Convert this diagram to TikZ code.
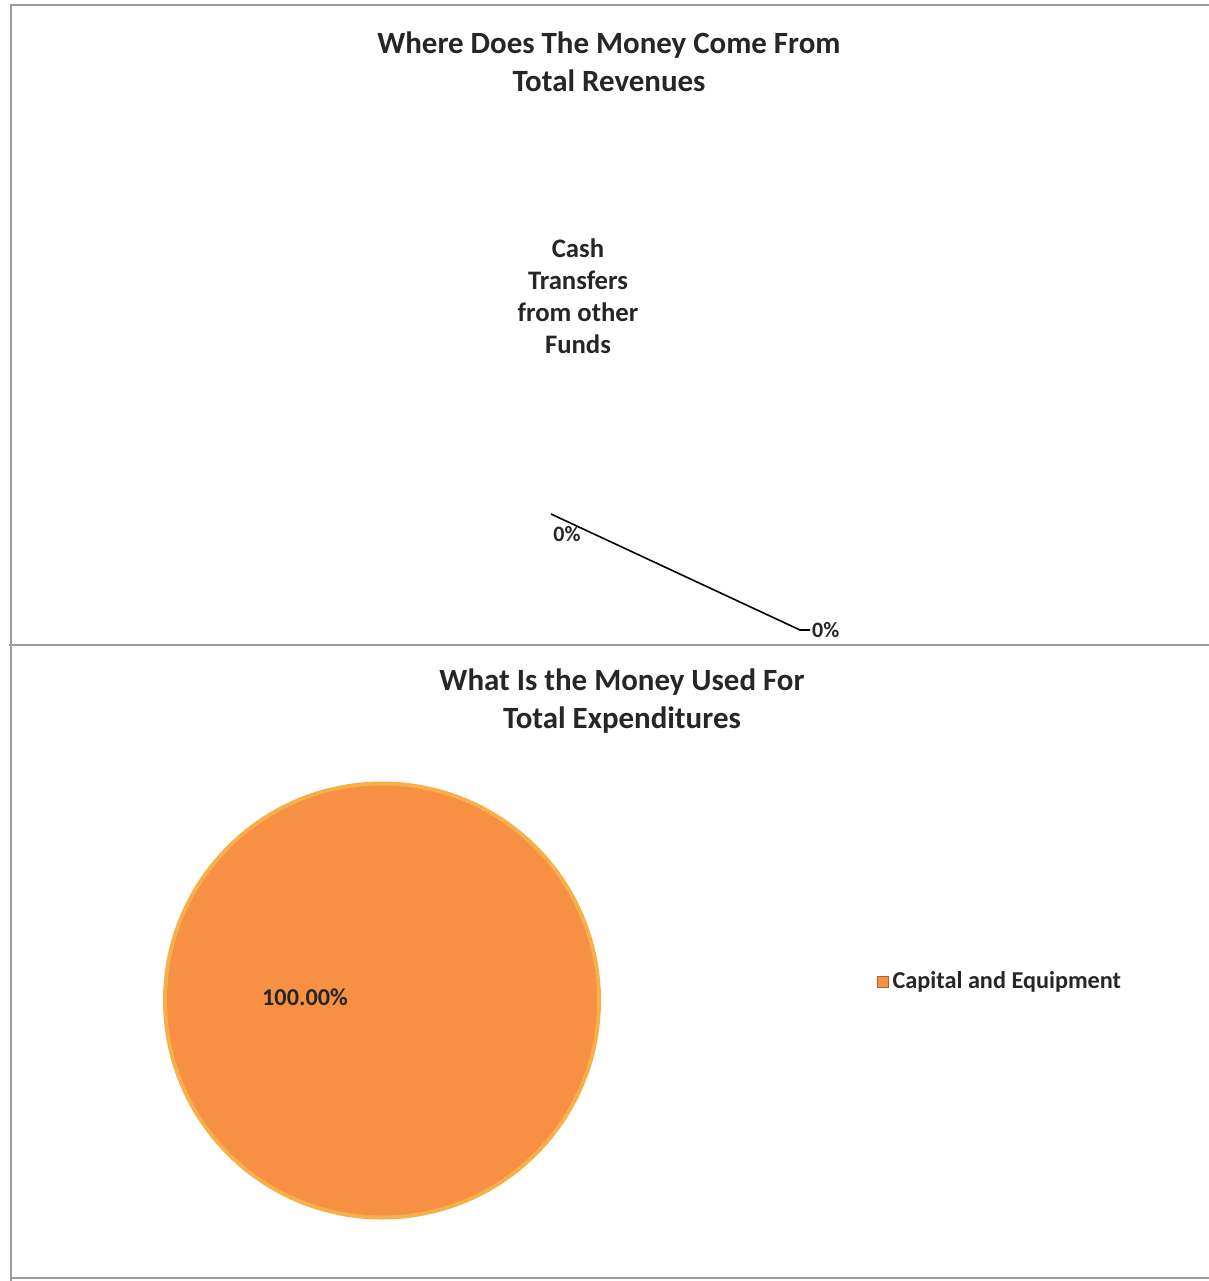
\documentclass[tikz,border=0pt]{standalone}
\usepackage{fontspec}
\setmainfont{Carlito}
\usetikzlibrary{positioning}
\definecolor{framegray}{HTML}{9C9C9C}
\definecolor{pieorange}{HTML}{F89044}
\definecolor{pierim}{HTML}{F6B04A}
\definecolor{labelblack}{HTML}{262626}
\tikzset{
  charttitle/.style={font=\bfseries\fontsize{17.6}{21.6}\selectfont, text=labelblack, align=center},
  catlabel/.style={font=\bfseries\fontsize{15.2}{18.2}\selectfont, text=labelblack, align=center},
  pctlabel/.style={font=\bfseries\fontsize{12.5}{14}\selectfont, text=labelblack, inner sep=1pt},
  legendlabel/.style={font=\bfseries\fontsize{13.8}{16}\selectfont, text=labelblack, inner sep=1pt},
  frameline/.style={framegray, line width=0.6pt}
}
\begin{document}
\begin{tikzpicture}[x=0.02cm, y=0.02cm]
  \pgfmathsetmacro{\PieR}{219}
  \useasboundingbox (0,0) rectangle (1209,-1281);

  % frame of both charts
  \draw[frameline] (1209,-5) -- (11,-5) -- (11,-1281);
  \draw[frameline] (9,-645) -- (1209,-645);
  \draw[frameline] (11,-1278) -- (1209,-1278);

  % revenues chart
  \node[charttitle] (revtitle) at (609,-62) {Where Does The Money Come From\\Total Revenues};
  \node[catlabel] (cashlabel) at (578,-296) {Cash\\Transfers\\from other\\Funds};
  \coordinate (slicetop) at (551,-514);
  \coordinate (leaderbend) at (800,-630);
  \node[pctlabel] (pctA) at (567,-534) {0\%};
  \node[pctlabel, anchor=west] (pctB) at (810,-630) {0\%};
  \draw[black, line width=0.9pt] (slicetop) -- (leaderbend) -- (pctB.west);

  % expenditures chart
  \node[charttitle] (exptitle) at (622,-701) {What Is the Money Used For\\Total Expenditures};
  \coordinate (piecenter) at (382,-1000.5);
  \fill[pierim] (piecenter) circle (\PieR);
  \fill[pieorange] (piecenter) circle (\PieR-4);
  \node[legendlabel] (pctpie) at (305,-997) {100.00\%};

  % legend
  \node[draw=pieorange!70!black, line width=0.3pt, fill=pieorange, minimum size=0.22cm, inner sep=0pt] (legkey) at (883,-982) {};
  \node[legendlabel, right=1pt of legkey] (legtext) {Capital and Equipment};
\end{tikzpicture}
\end{document}
